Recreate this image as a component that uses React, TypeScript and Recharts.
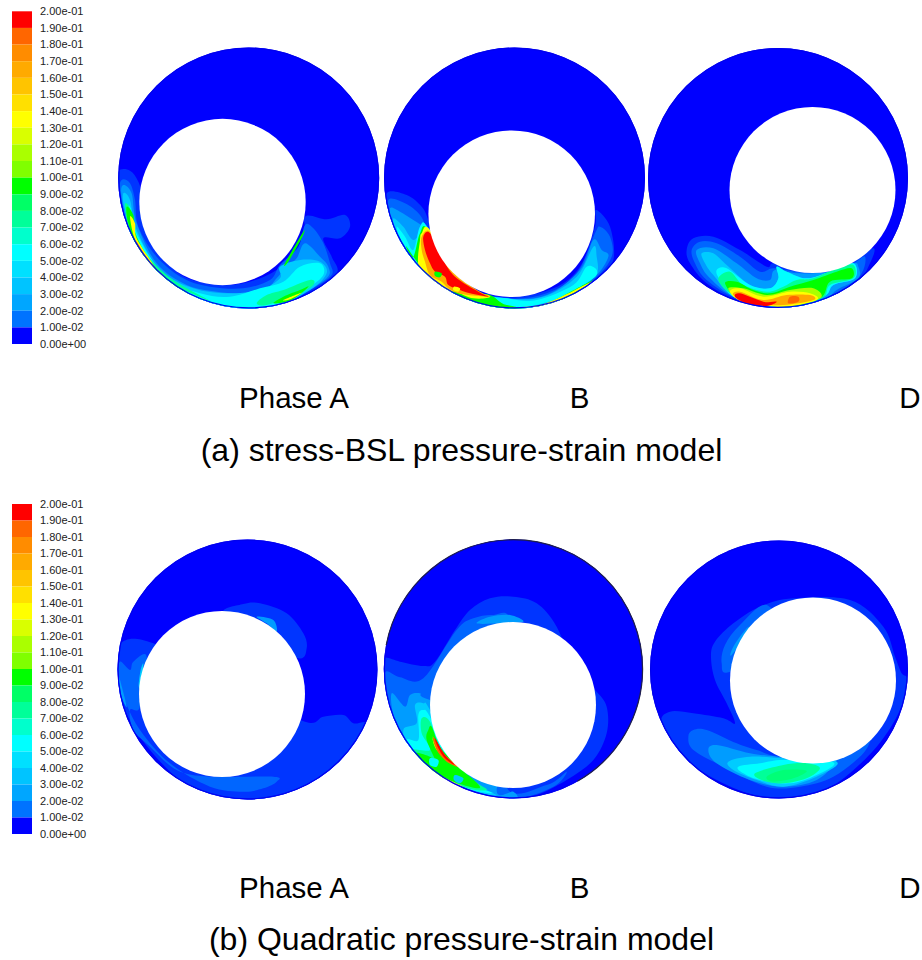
import React from 'react';
import { ComposedChart, XAxis, YAxis, Scatter, ReferenceArea } from 'recharts';

const W = 922;
const H = 960;

const legendLabels = ['2.00e-01','1.90e-01','1.80e-01','1.70e-01','1.60e-01','1.50e-01','1.40e-01','1.30e-01','1.20e-01','1.10e-01','1.00e-01','9.00e-02','8.00e-02','7.00e-02','6.00e-02','5.00e-02','4.00e-02','3.00e-02','2.00e-02','1.00e-02','0.00e+00'];
const legendColors = ['#ff0000','#ff6600','#ff8c00','#ffaa00','#ffc400','#ffe000','#ffff00','#d9ff00','#aaff00','#80ff00','#00ff00','#00ff66','#00ff99','#00ffcc','#00ffff','#00e0ff','#00c4ff','#00a6ff','#0073ff','#0000ff'];
const legendSpans = [{ top: 11.3, bottom: 344 }, { top: 504, bottom: 834 }];

const levelColors = ['#0000ff','#0035ff','#0066ff','#009cff','#00ccff','#00ffff','#00ff99','#00ff00','#aaff00','#ffff00','#ffaa00','#ff6600','#ff0000','#00ff77'];

const discs = [
  { id: 'a1', cx: 248.7, cy: 178, r: 130.5, hx: 222.5, hy: 202, hr: 83.2 },
  { id: 'a2', cx: 514.5, cy: 178, r: 130.5, hx: 511.7, hy: 213.7, hr: 83.3 },
  { id: 'a3', cx: 778, cy: 178, r: 130, hx: 812.5, hy: 190, hr: 83 },
  { id: 'b1', cx: 247.5, cy: 669.5, r: 130, hx: 222, hy: 694, hr: 83 },
  { id: 'b2', cx: 513.3, cy: 669, r: 129.5, hx: 513, hy: 705, hr: 83 },
  { id: 'b3', cx: 779, cy: 669.5, r: 129, hx: 813, hy: 680.5, hr: 83 },
];

type Contour = [number, number[]];

const contoursA1: Contour[] = [
  [1,[585,200,650,208,705,195,720,230,690,265,640,265,665,320,680,372,600,440,500,490,350,480,200,420,100,330,40,220,20,130,25,65,60,62,85,95,100,150,110,250,200,365,300,402,400,400,500,360,585,280]],
  [2,[585,225,610,235,640,280,660,340,665,375,610,415,520,460,400,480,250,440,130,350,60,250,30,130,35,90,60,100,75,150,85,230,140,320,220,385,300,410,400,415,480,390,510,345,565,290]],
  [3,[530,350,560,325,585,280,630,320,655,350,650,385,560,440,450,480,300,450,150,365,65,260,35,140,40,105,65,130,80,220,140,340,230,405,320,425,400,430,470,415,500,385]],
  [4,[510,350,570,330,630,335,650,370,600,420,480,475,350,475,200,415,90,300,45,180,40,130,60,150,80,240,150,360,250,415,350,430,450,420,510,385]],
  [5,[570,350,630,340,640,375,590,415,480,470,350,470,220,425,100,320,50,200,60,170,85,260,170,385,270,430,360,440,450,415,520,395]],
  [6,[470,435,520,420,600,390,610,405,560,435,470,465,440,460]],
  [6,[45,170,60,175,80,270,170,375,300,452,330,465,170,392,75,290]],
  [7,[520,440,570,420,595,410,545,450,490,460]],
  [7,[50,170,70,195,80,260,150,370,250,440,180,400,90,310,55,220]],
  [7,[525,340,580,245,575,265,535,335]],
  [9,[60,200,75,220,80,265,130,345,110,330,75,270]],
  [9,[520,450,575,428,540,448]],
  [10,[80,275,120,335,175,390,130,350,85,295]],
];

const contoursA2: Contour[] = [
  [1,[20,70,80,75,125,110,145,150,160,210,250,340,380,382,520,355,600,290,645,170,648,120,690,170,700,270,650,330,540,400,400,425,250,400,100,300,30,160]],
  [2,[25,90,75,100,120,135,140,180,150,230,240,345,380,385,500,370,590,310,645,190,660,170,690,200,695,260,640,330,520,405,400,425,250,400,110,300,40,170]],
  [3,[30,115,60,125,100,150,130,170,145,190,240,345,380,385,500,375,600,300,640,210,665,240,685,260,640,325,520,405,400,425,250,400,110,305,40,170]],
  [4,[40,145,70,170,100,210,130,180,150,190,240,350,380,385,490,380,590,320,640,230,650,260,650,310,600,350,520,400,400,425,250,400,120,310,50,190]],
  [5,[50,170,75,200,100,240,120,170,145,175,240,350,380,385,470,390,580,345,620,290,650,300,640,325,560,375,470,405,400,420,250,395,120,310,65,215]],
  [7,[80,230,100,260,120,190,145,180,240,350,330,375,380,405,480,408,620,340,640,330,560,385,470,410,400,420,280,400,150,320]],
  [9,[120,210,125,190,150,180,240,340,330,378,280,385,225,365,190,370,145,330,115,285]],
  [9,[350,405,480,405,635,335,550,385,470,410]],
  [10,[125,200,150,185,195,265,235,320,300,365,330,380,265,375,235,370,205,355,185,335,150,315,135,275,125,240]],
  [12,[130,200,150,190,190,270,225,320,295,365,325,380,270,370,240,360,205,345,195,320,165,305,150,280,135,240]],
  [7,[165,305,185,310,180,322,165,318]],
  [9,[222,350,240,355,235,365,220,360]],
];

const contoursA3: Contour[] = [
  [1,[110,150,130,115,190,110,270,150,350,200,370,190,440,215,520,215,600,190,670,145,660,190,620,250,520,310,400,330,260,300,170,250,120,190]],
  [2,[125,150,150,125,200,130,270,170,330,215,370,205,440,215,540,215,610,190,645,170,635,220,580,270,520,300,400,325,260,295,170,240,135,190]],
  [3,[140,150,190,145,260,190,320,235,360,240,375,210,440,220,540,215,610,190,625,200,625,235,560,270,520,300,400,325,260,295,180,235,150,190]],
  [4,[155,160,190,160,230,195,300,255,360,265,385,235,380,200,410,215,470,235,540,215,610,190,615,235,550,255,520,290,400,322,260,295,190,225,165,190]],
  [5,[200,210,230,205,300,255,360,265,385,235,380,200,410,215,470,235,540,215,610,190,615,235,550,255,520,290,400,322,260,295,210,240]],
  [6,[205,240,240,215,280,255,350,275,400,260,440,240,490,235,560,205,610,195,610,235,540,255,515,295,400,322,260,290]],
  [7,[225,250,260,245,310,270,360,280,420,260,490,240,560,215,605,205,605,235,540,245,510,295,400,320,270,295]],
  [8,[235,265,280,265,350,285,420,270,490,265,510,295,400,320,270,295]],
  [9,[240,275,270,265,340,290,420,275,480,280,500,300,400,320,280,305]],
  [10,[250,285,270,275,340,300,410,285,480,285,490,300,400,315,300,310]],
  [12,[255,290,270,280,340,305,380,305,350,318,290,310]],
  [11,[420,290,445,290,445,305,415,310]],
];

const contoursB1: Contour[] = [
  [1,[340,70,400,42,450,40,530,70,580,130,590,175,565,205,450,150]],
  [1,[30,160,130,160,400,300,585,395,640,380,700,375,730,400,770,405,700,520,560,600,400,640,250,600,120,480,40,350,15,240]],
  [2,[30,215,60,240,70,215,110,200,90,350,60,360,70,420,120,470,200,540,300,560,490,560,500,575,460,595,400,605,300,590,180,520,90,420,40,320,25,260]],
  [3,[440,80,490,90,500,125,470,100]],
  [3,[25,260,30,270,50,350,35,320]],
  [4,[86,285,92,240,100,222,92,290]],
];

const contoursB2: Contour[] = [
  [1,[10,205,60,215,130,228,165,215,225,120,270,60,330,25,400,20,470,40,530,110,590,250,645,300,680,350,680,430,640,510,560,570,470,615,400,625,250,590,100,480,30,350,10,260]],
  [2,[15,250,60,262,130,265,230,120,280,85,340,75,390,90,400,300,380,590,500,585,560,545,520,590,400,625,250,590,100,490,35,370]],
  [3,[35,310,75,350,90,315,120,310,150,330,400,400,350,600,400,605,400,625,250,590,100,490,45,390]],
  [3,[290,100,330,80,390,75,430,95,360,100]],
  [4,[70,420,110,400,105,345,130,340,150,360,250,560,350,615,250,590,100,490]],
  [5,[80,450,115,450,115,375,130,360,150,380,230,530,300,590,340,610,250,590,110,510]],
  [6,[90,480,150,480,125,430,125,385,150,395,190,490,280,570,320,600,250,590,120,525]],
  [7,[105,490,150,500,170,520,140,450,145,420,155,410,180,470,230,525,300,590,250,585,140,540]],
  [9,[110,500,170,550,250,590,200,570,140,535]],
  [9,[155,430,170,480,230,530,195,500,165,465]],
  [11,[160,440,190,490,235,530,200,515,170,480]],
  [12,[165,445,195,495,225,525,195,505,175,475]],
  [10,[120,510,170,555,150,545]],
  [5,[150,505,175,510,170,530,150,525]],
  [4,[225,555,250,565,240,580,222,570]],
];

const contoursB3: Contour[] = [
  [1,[430,25,330,50,250,100,195,155,183,200,195,270,230,340,255,400,220,385,130,370,60,365,35,400,100,500,200,570,330,620,450,620,560,580,680,470,750,360,772,270,755,250,735,200,700,110,600,30]],
  [2,[115,440,130,420,170,420,260,460,320,480,400,500,600,490,660,440,640,490,550,560,450,590,350,590,220,530,130,480]],
  [2,[350,45,270,105,225,165,215,220,240,245,400,150]],
  [3,[175,480,200,465,300,490,380,500,500,515,560,510,500,570,400,590,300,570,200,520]],
  [3,[290,115,250,170,245,195,300,120]],
  [4,[235,515,300,500,400,505,560,515,500,560,400,590,320,570,250,540]],
  [5,[265,530,330,520,400,510,550,517,500,555,420,580,330,570,280,550]],
  [6,[315,550,400,525,470,520,510,535,470,565,400,580,340,572]],
  [13,[350,560,400,540,470,542,430,565,370,575]],
];

const contourSets = [
  { disc: 'a1', ox: 110, oy: 150, list: contoursA1 },
  { disc: 'a2', ox: 380, oy: 170, list: contoursA2 },
  { disc: 'a3', ox: 650, oy: 200, list: contoursA3 },
  { disc: 'b1', ox: 110, oy: 590, list: contoursB1 },
  { disc: 'b2', ox: 380, oy: 590, list: contoursB2 },
  { disc: 'b3', ox: 650, oy: 590, list: contoursB3 },
];

const captions = [
  { x: 294, y: 408, text: 'Phase A', size: 29.5 },
  { x: 579.5, y: 408, text: 'B', size: 29.5 },
  { x: 910, y: 408, text: 'D', size: 29.5 },
  { x: 461.5, y: 461, text: '(a) stress-BSL pressure-strain model', size: 32 },
  { x: 294, y: 898, text: 'Phase A', size: 29.5 },
  { x: 579.5, y: 898, text: 'B', size: 29.5 },
  { x: 910, y: 898, text: 'D', size: 29.5 },
  { x: 461.5, y: 950, text: '(b) Quadratic pressure-strain model', size: 32 },
];

const toPoints = (ox: number, oy: number, flat: number[]) => {
  const out: { x: number; y: number }[] = [];
  for (let i = 0; i < flat.length; i += 2) out.push({ x: ox + flat[i] / 3, y: oy + flat[i + 1] / 3 });
  return out;
};

// Closed Catmull-Rom curve in the form d3-shape expects of a curve factory.
const smoothClosed = (context: any) => {
  let pts: [number, number][] = [];
  return {
    areaStart() {},
    areaEnd() {},
    lineStart() { pts = []; },
    point(x: number, y: number) { pts.push([+x, +y]); },
    lineEnd() {
      const n = pts.length;
      if (!n) return;
      context.moveTo(pts[0][0], pts[0][1]);
      for (let i = 0; i < n; i++) {
        const p0 = pts[(i - 1 + n) % n];
        const p1 = pts[i];
        const p2 = pts[(i + 1) % n];
        const p3 = pts[(i + 2) % n];
        context.bezierCurveTo(
          p1[0] + (p2[0] - p0[0]) / 6,
          p1[1] + (p2[1] - p0[1]) / 6,
          p2[0] - (p3[0] - p1[0]) / 6,
          p2[1] - (p3[1] - p1[1]) / 6,
          p2[0],
          p2[1]
        );
      }
      context.closePath();
    },
  };
};

const noMark = () => <g />;

const DiscBase = (p: any) => <circle cx={p.cx} cy={p.cy} r={p.payload.r} fill="#0000ff" />;
const DiscRim = (p: any) =>
  p.payload.id === 'b2' ? (
    <>
      <circle cx={p.cx} cy={p.cy} r={p.payload.r - 0.6} fill="none" stroke="#0000ee" strokeWidth={1.2} />
      <circle cx={p.cx} cy={p.cy} r={p.payload.r - 0.2} fill="none" stroke="#20204a" strokeWidth={1.2} strokeDasharray="136 294 384" />
    </>
  ) : (
    <circle cx={p.cx} cy={p.cy} r={p.payload.r - 0.6} fill="none" stroke="#0000ee" strokeWidth={1.2} />
  );
const DiscHole = (p: any) => <circle cx={p.cx} cy={p.cy} r={p.payload.hr} fill="#ffffff" />;
const Caption = (p: any) => (
  <text x={p.cx} y={p.cy} textAnchor="middle" fontFamily="Liberation Sans" fontSize={p.payload.size} fill="#000">{p.payload.text}</text>
);
const LegendText = (p: any) => (
  <text x={p.cx} y={p.cy} dy={3.8} fontFamily="Liberation Sans" fontSize={11} fill="#222">{p.payload.text}</text>
);

const legendTextData = legendSpans.map((s) =>
  legendLabels.map((text, i) => ({ x: 40, y: s.top + ((s.bottom - s.top) * i) / 20, text }))
);

export default function App() {
  return (
    <div style={{ position: 'absolute', left: 0, top: 0, width: W, height: H }}>
      <ComposedChart width={W} height={H} margin={{ top: 0, right: 0, bottom: 0, left: 0 }} data={[]}>
        <defs>
          {discs.map((d) => (
            <clipPath key={d.id} id={`clip-${d.id}`}>
              <circle cx={d.cx} cy={d.cy} r={d.r} />
            </clipPath>
          ))}
        </defs>
        <XAxis type="number" dataKey="x" domain={[0, W]} hide />
        <YAxis type="number" dataKey="y" domain={[0, H]} reversed hide />
        {legendSpans.flatMap((s, k) =>
          legendColors.map((c, i) => (
            <ReferenceArea
              key={`${k}-${i}`}
              x1={12}
              x2={32}
              y1={s.top + ((s.bottom - s.top) * i) / 20}
              y2={s.top + ((s.bottom - s.top) * (i + 1)) / 20}
              fill={c}
              fillOpacity={1}
              stroke="none"
              ifOverflow="visible"
            />
          ))
        )}
        <Scatter data={discs.map((d) => ({ ...d, x: d.cx, y: d.cy }))} shape={DiscBase} isAnimationActive={false} />
        {contourSets.flatMap((set) =>
          set.list.map(([level, flat], i) => (
            <Scatter
              key={`${set.disc}-${i}`}
              data={toPoints(set.ox, set.oy, flat)}
              shape={noMark}
              line={{ fill: levelColors[level], stroke: 'none', clipPath: `url(#clip-${set.disc})` }}
              lineType="joint"
              lineJointType={smoothClosed as any}
              isAnimationActive={false}
            />
          ))
        )}
        <Scatter data={discs.map((d) => ({ ...d, x: d.cx, y: d.cy }))} shape={DiscRim} isAnimationActive={false} />
        <Scatter data={discs.map((d) => ({ ...d, x: d.hx, y: d.hy }))} shape={DiscHole} isAnimationActive={false} />
        {legendTextData.map((data, k) => (
          <Scatter key={`lt-${k}`} data={data} shape={LegendText} isAnimationActive={false} />
        ))}
        <Scatter data={captions} shape={Caption} isAnimationActive={false} />
      </ComposedChart>
    </div>
  );
}
